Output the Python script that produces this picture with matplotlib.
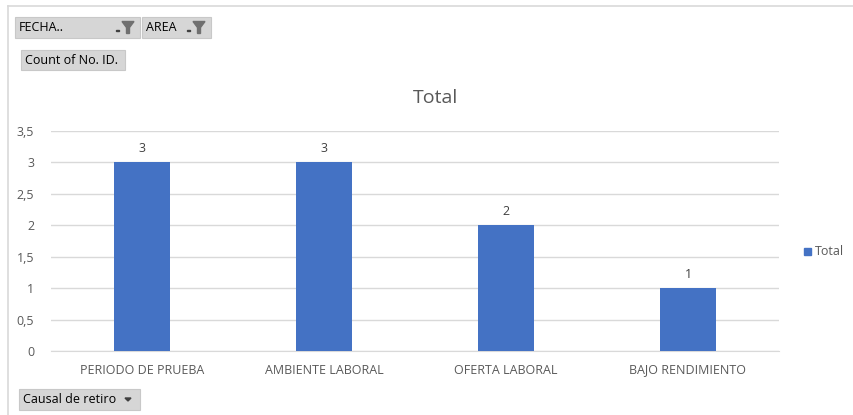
import matplotlib.pyplot as plt
from matplotlib.patches import Rectangle, Polygon
from matplotlib.lines import Line2D

categories = ['PERIODO DE PRUEBA', 'AMBIENTE LABORAL', 'OFERTA LABORAL', 'BAJO RENDIMIENTO']
counts = [3, 3, 2, 1]
y_ticks = [0, 0.5, 1, 1.5, 2, 2.5, 3, 3.5]
y_tick_labels = ['0', '0,5', '1', '1,5', '2', '2,5', '3', '3,5']

W, H = 854, 415
plt.rcParams['font.family'] = ['Open Sans', 'DejaVu Sans']
text_col = '#595959'
bar_col = '#4472c4'

fig = plt.figure(figsize=(W / 100, H / 100), dpi=100)
fig.patch.set_facecolor('white')


def px(x0, y0, x1, y1):
    return [x0 / W, 1 - y1 / H, (x1 - x0) / W, (y1 - y0) / H]


ax = fig.add_axes(px(51, 131, 779, 351))
x = range(len(categories))
ax.bar(x, counts, width=0.31, color=bar_col, zorder=3)
for xi, v in zip(x, counts):
    ax.text(xi, v + 0.12, str(v), ha='center', va='bottom', fontsize=9, color='#404040')
ax.set_xlim(-0.5, len(categories) - 0.5)
ax.set_ylim(0, 3.5)
ax.set_yticks(y_ticks)
ax.set_yticklabels(y_tick_labels)
ax.set_xticks(list(x))
ax.set_xticklabels(categories)
ax.tick_params(axis='both', length=0, labelsize=9, labelcolor=text_col)
ax.tick_params(axis='y', pad=12)
ax.tick_params(axis='x', pad=9)
ax.grid(axis='y', color='#d9d9d9', linewidth=1, zorder=0)
for s in ['top', 'right', 'left']:
    ax.spines[s].set_visible(False)
ax.spines['bottom'].set_color('#d9d9d9')

fig.text(436 / W, 1 - 98 / H, 'Total', ha='center', va='center', fontsize=14, color=text_col)

# legend
fig.add_artist(Rectangle((804 / W, 1 - 255 / H), 7 / W, 7 / H, color=bar_col, transform=fig.transFigure))
fig.text(815 / W, 1 - 251 / H, 'Total', ha='left', va='center', fontsize=9, color=text_col)

# frame lines
fig.add_artist(Line2D([8 / W, 8 / W], [0, 1 - 6 / H], color='#d9d9d9', lw=1.2, transform=fig.transFigure))
fig.add_artist(Line2D([8 / W, 1], [1 - 6 / H, 1 - 6 / H], color='#d9d9d9', lw=1.2, transform=fig.transFigure))


def button(x0, y0, x1, y1, label, icon=None):
    r = Rectangle((x0 / W, 1 - y1 / H), (x1 - x0) / W, (y1 - y0) / H,
                  facecolor='#d6d6d6', edgecolor='#c8c8c8', lw=0.8, transform=fig.transFigure)
    fig.add_artist(r)
    fig.text((x0 + 4) / W, 1 - ((y0 + y1) / 2) / H, label, ha='left', va='center',
             fontsize=9, color='black', family=['Open Sans', 'DejaVu Sans'])
    if icon == 'filter':
        cx = x1 - 12
        cy = (y0 + y1) / 2
        tri = [(cx - 6, cy - 6), (cx + 6, cy - 6), (cx + 1.5, cy), (cx + 1.5, cy + 6),
               (cx - 1.5, cy + 6), (cx - 1.5, cy)]
        fig.add_artist(Polygon([(a / W, 1 - b / H) for a, b in tri], closed=True,
                               color='#707070', transform=fig.transFigure))
        fig.add_artist(Rectangle(((cx - 12) / W, 1 - (cy + 4) / H), 3 / W, 1.5 / H,
                                 color='#404040', transform=fig.transFigure))
    elif icon == 'drop':
        cx = x1 - 12
        cy = (y0 + y1) / 2
        tri = [(cx - 3, cy - 1.5), (cx + 3, cy - 1.5), (cx, cy + 1.5)]
        fig.add_artist(Polygon([(a / W, 1 - b / H) for a, b in tri], closed=True,
                               color='#404040', transform=fig.transFigure))


button(15, 17, 140, 38, 'FECHA..', 'filter')
button(142, 17, 211, 38, 'AREA', 'filter')
button(21, 50, 125, 70, 'Count of No. ID.')
button(19, 389, 140, 410, 'Causal de retiro', 'drop')

fig.savefig('out.png', dpi=100)
